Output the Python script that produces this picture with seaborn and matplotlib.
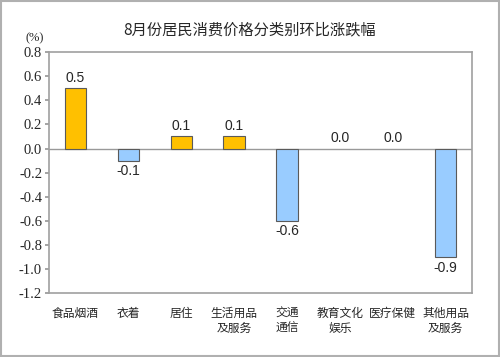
import matplotlib.pyplot as plt
import numpy as np
import pandas as pd
import seaborn as sns
from matplotlib.patches import Rectangle

categorias = ["食品烟酒", "衣着", "居住", "生活用品\n及服务", "交通\n通信",
              "教育文化\n娱乐", "医疗保健", "其他用品\n及服务"]
valores = [0.5, -0.1, 0.1, 0.1, -0.6, 0.0, 0.0, -0.9]
y_ticks = [0.8, 0.6, 0.4, 0.2, 0.0, -0.2, -0.4, -0.6, -0.8, -1.0, -1.2]

sns.set_theme(style="white")
plt.rcParams["font.family"] = ["Noto Sans CJK SC", "DejaVu Sans"]

df = pd.DataFrame({"cat": categorias, "val": valores})
df["signo"] = np.where(df["val"] < 0, "neg", "pos")

fig = plt.figure(figsize=(5, 3.57), dpi=100)
ax = fig.add_axes([0.098, 0.179, 0.846, 0.675])

sns.barplot(data=df, x="cat", y="val", hue="signo",
            palette={"pos": "#FFC000", "neg": "#99CCFF"}, saturation=1,
            dodge=False, width=0.4, edgecolor="#5a5a5a", linewidth=0.8,
            legend=False, ax=ax)

# las barras con valor cero no se ven en el original
for p in ax.patches:
    if abs(p.get_height()) < 1e-9:
        p.set_linewidth(0)

ax.set_ylim(-1.2, 0.8)
ax.set_xlim(-0.5, len(categorias) - 0.5)
ax.set_yticks(y_ticks)
ax.set_yticklabels([f"{t:.1f}" for t in y_ticks])
for lbl in ax.get_yticklabels():
    lbl.set_fontfamily("Liberation Serif")
    lbl.set_fontsize(10.5)
ax.tick_params(axis="y", left=True, length=3, color="#999999", pad=2)
ax.tick_params(axis="x", bottom=False, labelsize=8.5, pad=4)
ax.set_xlabel("")
ax.set_ylabel("")
ax.axhline(0, color="#999999", lw=1, zorder=0)
for s in ax.spines.values():
    s.set_color("#a0a0a0")
    s.set_linewidth(1.2)

for i, v in enumerate(valores):
    if v > 0:
        ax.text(i, v + 0.03, f"{v:.1f}", ha="center", va="bottom",
                family="Liberation Sans", fontsize=10)
    elif v < 0:
        ax.text(i, v - 0.03, f"{v:.1f}", ha="center", va="top",
                family="Liberation Sans", fontsize=10)
    else:
        ax.text(i, 0.03, "0.0", ha="center", va="bottom",
                family="Liberation Sans", fontsize=10)

fig.text(0.5, 0.915, "8月份居民消费价格分类别环比涨跌幅", ha="center", va="center",
         fontsize=11)
fig.text(0.05, 0.893, "(%)", ha="left", va="center", family="Liberation Serif",
         fontsize=9)
fig.patches.append(Rectangle((0.002, 0.003), 0.996, 0.994, transform=fig.transFigure,
                             fill=False, edgecolor="#b0b0b0", lw=1.5))

fig.savefig("out.png", dpi=100)
